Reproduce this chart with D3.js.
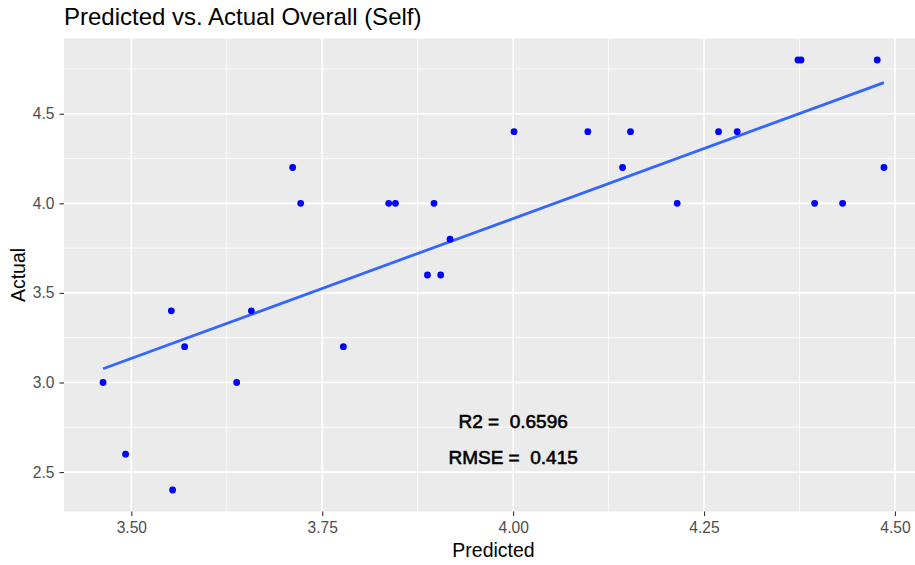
<!DOCTYPE html>
<html>
<head>
<meta charset="utf-8">
<script src="https://cdn.jsdelivr.net/npm/d3@7"></script>
<style>
  body { margin: 0; background: #fff; }
  text { font-family: "Liberation Sans", Arial, sans-serif; }
</style>
</head>
<body>
<div id="chart"></div>
<script>
const width = 915;
const height = 565;

// predicted / actual pairs
const predicted = [3.463, 3.4925, 3.5524, 3.5541, 3.5698, 3.638, 3.6572, 3.7777,
  3.7113, 3.7218, 3.8371, 3.8459, 3.8964, 3.9174, 3.8878, 3.9052, 4.0012, 4.0978,
  4.1537, 4.1433, 4.2148, 4.269, 4.2934, 4.373, 4.377, 4.4768, 4.4856, 4.3948, 4.4315];
const actual = [3.0, 2.6, 3.4, 2.4, 3.2, 3.0, 3.4, 3.2,
  4.2, 4.0, 4.0, 4.0, 4.0, 3.8, 3.6, 3.6, 4.4, 4.4,
  4.4, 4.2, 4.0, 4.4, 4.4, 4.8, 4.8, 4.8, 4.2, 4.0, 4.0];

const xTicks = [3.5, 3.75, 4.0, 4.25, 4.5];
const xMinor = [3.375, 3.625, 3.875, 4.125, 4.375, 4.625];
const yTicks = [2.5, 3.0, 3.5, 4.0, 4.5];
const yMinor = [2.25, 2.75, 3.25, 3.75, 4.25, 4.75];

const annotations = [
  { label: "R2 =  0.6596", x: 4.0, y: 2.8 },
  { label: "RMSE =  0.415", x: 4.0, y: 2.6 }
];

const data = predicted.map((p, i) => ({ p, a: actual[i] }));

// ggplot-style 5% expansion
const expand = (ext) => {
  const pad = (ext[1] - ext[0]) * 0.05;
  return [ext[0] - pad, ext[1] + pad];
};

const panel = { left: 64, right: 923, top: 38.5, bottom: 511.5 };

const x = d3.scaleLinear().domain(expand(d3.extent(predicted))).range([panel.left, panel.right]);
const y = d3.scaleLinear().domain(expand(d3.extent(actual))).range([panel.bottom, panel.top]);

const svg = d3.select("#chart").append("svg").attr("width", width).attr("height", height);

svg
  .append("rect")
  .attr("x", panel.left)
  .attr("y", panel.top)
  .attr("width", panel.right - panel.left)
  .attr("height", panel.bottom - panel.top)
  .attr("fill", "#EBEBEB");

const grid = svg.append("g");

grid
  .selectAll(".xminor")
  .data(xMinor)
  .join("line")
  .attr("x1", (d) => x(d))
  .attr("x2", (d) => x(d))
  .attr("y1", panel.top)
  .attr("y2", panel.bottom)
  .attr("stroke", "#fff")
  .attr("stroke-width", 0.8);

grid
  .selectAll(".yminor")
  .data(yMinor)
  .join("line")
  .attr("y1", (d) => y(d))
  .attr("y2", (d) => y(d))
  .attr("x1", panel.left)
  .attr("x2", panel.right)
  .attr("stroke", "#fff")
  .attr("stroke-width", 0.8);

grid
  .selectAll(".xmajor")
  .data(xTicks)
  .join("line")
  .attr("x1", (d) => x(d))
  .attr("x2", (d) => x(d))
  .attr("y1", panel.top)
  .attr("y2", panel.bottom)
  .attr("stroke", "#fff")
  .attr("stroke-width", 1.6);

grid
  .selectAll(".ymajor")
  .data(yTicks)
  .join("line")
  .attr("y1", (d) => y(d))
  .attr("y2", (d) => y(d))
  .attr("x1", panel.left)
  .attr("x2", panel.right)
  .attr("stroke", "#fff")
  .attr("stroke-width", 1.6);

// linear fit (geom_smooth method = "lm")
const mx = d3.mean(predicted);
const my = d3.mean(actual);
const slope =
  d3.sum(data, (d) => (d.p - mx) * (d.a - my)) / d3.sum(data, (d) => (d.p - mx) ** 2);
const intercept = my - slope * mx;
const fitX = d3.extent(predicted);

svg
  .append("path")
  .datum(fitX.map((p) => [p, intercept + slope * p]))
  .attr("fill", "none")
  .attr("stroke", "#3366FF")
  .attr("stroke-width", 2.8)
  .attr("d", d3.line().x((d) => x(d[0])).y((d) => y(d[1])));

svg
  .append("g")
  .selectAll("circle")
  .data(data)
  .join("circle")
  .attr("cx", (d) => x(d.p))
  .attr("cy", (d) => y(d.a))
  .attr("r", 3.4)
  .attr("fill", "#0000FF");

// axes
const xAxis = svg
  .append("g")
  .attr("transform", `translate(0,${panel.bottom})`)
  .call(d3.axisBottom(x).tickValues(xTicks).tickFormat(d3.format(".2f")).tickSize(4.5).tickPadding(6));
const yAxis = svg
  .append("g")
  .attr("transform", `translate(${panel.left},0)`)
  .call(d3.axisLeft(y).tickValues(yTicks).tickFormat(d3.format(".1f")).tickSize(4.5).tickPadding(5));

[xAxis, yAxis].forEach((g) => {
  g.select(".domain").remove();
  g.selectAll(".tick line").attr("stroke", "#333333").attr("stroke-width", 1.1);
  g.selectAll(".tick text")
    .attr("fill", "#4D4D4D")
    .style("font-size", "15.6px")
    .style("font-family", '"Liberation Sans", Arial, sans-serif');
});

svg
  .selectAll(".annot")
  .data(annotations)
  .join("text")
  .attr("x", (d) => x(d.x))
  .attr("y", (d) => y(d.y))
  .attr("dy", "0.5em")
  .attr("text-anchor", "middle")
  .attr("fill", "#000")
  .attr("stroke", "#000")
  .attr("stroke-width", 0.6)
  .style("font-size", "19px")
  .style("white-space", "pre")
  .text((d) => d.label);

svg
  .append("text")
  .attr("x", panel.left)
  .attr("y", 25)
  .attr("fill", "#000")
  .style("font-size", "24px")
  .text("Predicted vs. Actual Overall (Self)");

svg
  .append("text")
  .attr("x", (panel.left + panel.right) / 2)
  .attr("y", 557)
  .attr("text-anchor", "middle")
  .attr("fill", "#000")
  .style("font-size", "19.5px")
  .text("Predicted");

svg
  .append("text")
  .attr("transform", `translate(25,${(panel.top + panel.bottom) / 2}) rotate(-90)`)
  .attr("text-anchor", "middle")
  .attr("fill", "#000")
  .style("font-size", "19.5px")
  .text("Actual");
</script>
</body>
</html>
